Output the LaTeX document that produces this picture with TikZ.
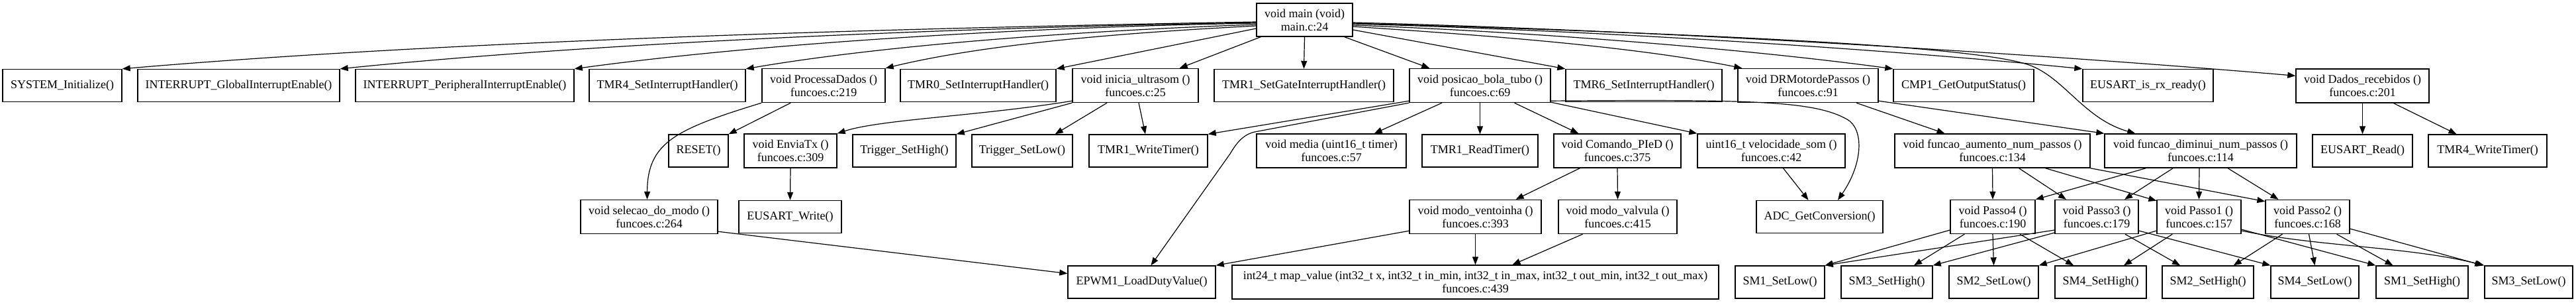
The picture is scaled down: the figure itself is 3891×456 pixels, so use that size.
\documentclass[tikz,border=0pt]{standalone}
\usepackage{fontspec}
\setmainfont{Liberation Serif}
\usetikzlibrary{arrows.meta}
\begin{document}
\begin{tikzpicture}[x=1pt,y=-1pt,
  fn/.style={draw=black, line width=1.4pt, rectangle, inner sep=0pt, align=center,
             font=\fontsize{18pt}{20pt}\selectfont, minimum height=49pt},
  fn2/.style={fn, minimum height=51pt},
  call/.style={line width=1.2pt, -{Triangle[length=12pt,width=9pt]}}]
\fill[white] (0,0) rectangle (3891,456);
\useasboundingbox (0,0) rectangle (3891,456);
% ---------- nodes ----------
\node[fn, minimum width=145pt, minimum height=50pt] (main) at (1970.5,30) {void main (void)\\main.c:24};
% row 1
\node[fn, minimum width=180pt] (sysinit) at (94,129) {SYSTEM\_Initialize()};
\node[fn, minimum width=305pt] (gie) at (360.5,129) {INTERRUPT\_GlobalInterruptEnable()};
\node[fn, minimum width=330pt] (pie) at (702,129) {INTERRUPT\_PeripheralInterruptEnable()};
\node[fn, minimum width=236pt] (tmrfoursih) at (1008,129) {TMR4\_SetInterruptHandler()};
\node[fn2, minimum width=186pt] (procdados) at (1244,129) {void ProcessaDados ()\\funcoes.c:219};
\node[fn, minimum width=235pt] (tmrzerosih) at (1477.5,129) {TMR0\_SetInterruptHandler()};
\node[fn2, minimum width=190pt] (inicia) at (1715,129) {void inicia\_ultrasom ()\\funcoes.c:25};
\node[fn, minimum width=271pt] (tmronegate) at (1969.5,129) {TMR1\_SetGateInterruptHandler()};
\node[fn2, minimum width=213pt] (posicao) at (2235.5,129) {void posicao\_bola\_tubo ()\\funcoes.c:69};
\node[fn, minimum width=236pt] (tmrsixsih) at (2483,129) {TMR6\_SetInterruptHandler()};
\node[fn2, minimum width=212pt] (drmotor) at (2731,129) {void DRMotordePassos ()\\funcoes.c:91};
\node[fn, minimum width=212pt] (cmpone) at (2966,129) {CMP1\_GetOutputStatus()};
\node[fn, minimum width=197pt] (eusartrx) at (3244.5,129) {EUSART\_is\_rx\_ready()};
\node[fn2, minimum width=201pt] (dados) at (3568.5,129.5) {void Dados\_recebidos ()\\funcoes.c:201};
% row 2
\node[fn, minimum width=90pt] (reset) at (1055,227.5) {RESET()};
\node[fn2, minimum width=140pt] (enviatx) at (1194,227.5) {void EnviaTx ()\\funcoes.c:309};
\node[fn, minimum width=156pt] (trighigh) at (1366,227.5) {Trigger\_SetHigh()};
\node[fn, minimum width=152pt] (triglow) at (1544,227.5) {Trigger\_SetLow()};
\node[fn, minimum width=179pt] (tmronewrite) at (1734.5,227.5) {TMR1\_WriteTimer()};
\node[fn2, minimum width=226pt] (media) at (2011,227.5) {void media (uint16\_t timer)\\funcoes.c:57};
\node[fn, minimum width=175pt] (tmroneread) at (2235.5,227.5) {TMR1\_ReadTimer()};
\node[fn2, minimum width=192pt] (comando) at (2443,227.5) {void Comando\_PIeD ()\\funcoes.c:375};
\node[fn2, minimum width=223pt] (velsom) at (2675.5,227.5) {uint16\_t velocidade\_som ()\\funcoes.c:42};
\node[fn2, minimum width=295pt] (aumento) at (3009.5,227.5) {void funcao\_aumento\_num\_passos ()\\funcoes.c:134};
\node[fn2, minimum width=290pt] (diminui) at (3324,227.5) {void funcao\_diminui\_num\_passos ()\\funcoes.c:114};
\node[fn, minimum width=151pt] (eusartread) at (3568.5,227.5) {EUSART\_Read()};
\node[fn, minimum width=179pt] (tmrfourwrite) at (3757.5,227.5) {TMR4\_WriteTimer()};
% row 3
\node[fn2, minimum width=207pt] (selecao) at (980.5,327) {void selecao\_do\_modo ()\\funcoes.c:264};
\node[fn, minimum width=155pt] (eusartwrite) at (1193.5,327) {EUSART\_Write()};
\node[fn2, minimum width=199pt] (ventoinha) at (2228.5,327) {void modo\_ventoinha ()\\funcoes.c:393};
\node[fn2, minimum width=179pt] (valvula) at (2443.5,327) {void modo\_valvula ()\\funcoes.c:415};
\node[fn, minimum width=191pt] (adc) at (2748.5,327) {ADC\_GetConversion()};
\node[fn2, minimum width=128pt] (passofour) at (3010,327) {void Passo4 ()\\funcoes.c:190};
\node[fn2, minimum width=126pt] (passothree) at (3167,327) {void Passo3 ()\\funcoes.c:179};
\node[fn2, minimum width=127pt] (passoone) at (3321.5,327) {void Passo1 ()\\funcoes.c:157};
\node[fn2, minimum width=127pt] (passotwo) at (3485.5,327) {void Passo2 ()\\funcoes.c:168};
% row 4
\node[fn, minimum width=223pt] (epwm) at (1724.5,425.5) {EPWM1\_LoadDutyValue()};
\node[fn2, minimum width=735pt] (mapvalue) at (2228.5,425.5) {int24\_t map\_value (int32\_t x, int32\_t in\_min, int32\_t in\_max, int32\_t out\_min, int32\_t out\_max)\\funcoes.c:439};
\node[fn, minimum width=135pt] (smonelow) at (2688.5,425.5) {SM1\_SetLow()};
\node[fn, minimum width=138pt] (smthreehigh) at (2850,425.5) {SM3\_SetHigh()};
\node[fn, minimum width=135pt] (smtwolow) at (3011.5,425.5) {SM2\_SetLow()};
\node[fn, minimum width=138pt] (smfourhigh) at (3173,425.5) {SM4\_SetHigh()};
\node[fn, minimum width=138pt] (smtwohigh) at (3335,425.5) {SM2\_SetHigh()};
\node[fn, minimum width=133pt] (smfourlow) at (3496.5,425.5) {SM4\_SetLow()};
\node[fn, minimum width=139pt] (smonehigh) at (3658.5,425.5) {SM1\_SetHigh()};
\node[fn, minimum width=133pt] (smthreelow) at (3819.5,425.5) {SM3\_SetLow()};
% ---------- edges from main ----------
\draw[call] ([yshift=-3pt]main.west) .. controls (1383,42) and (697,60) .. (sysinit.north east);
\draw[call] ([yshift=-4pt]main.west) .. controls (1482,41) and (927,62) .. (gie.north east);
\draw[call] ([yshift=-5pt]main.west) .. controls (1588,40) and (1174,62) .. (pie.north east);
\draw[call] ([yshift=-7pt]main.west) .. controls (1666,45) and (1354,65) .. (tmrfoursih.north east);
\draw[call] ([yshift=-9pt]main.west) .. controls (1728,48) and (1502,63) .. (procdados.north east);
\draw[call] ([yshift=-13pt]main.west) -- (tmrzerosih.north east);
\draw[call] ([xshift=7pt]main.south west) -- ([xshift=-29pt]inicia.north east);
\draw[call] (main.south) -- (tmronegate.north);
\draw[call] ([xshift=-13pt]main.south east) -- ([xshift=31pt]posicao.north west);
\draw[call] ([yshift=-15pt]main.east) -- (tmrsixsih.north west);
\draw[call] ([yshift=-10pt]main.east) .. controls (2221,52) and (2458,68) .. ([xshift=7pt]drmotor.north west);
\draw[call] ([yshift=-8pt]main.east) .. controls (2289,47) and (2616,71) .. (cmpone.north west);
\draw[call] ([yshift=-6pt]main.east) .. controls (2375,45) and (2816,71) .. (eusartrx.north west);
\draw[call] ([yshift=-4pt]main.east) .. controls (2471,45) and (3042,78) .. ([yshift=-11pt]dados.north west);
\draw[call] ([yshift=-5pt]main.east) .. controls (2600,52) and (3000,70) .. (3070,100)
   .. controls (3120,121) and (3150,180) .. ([xshift=47pt]diminui.north west);
% ---------- ProcessaDados ----------
\draw[call] (procdados.south west) .. controls (1020,195) and (978,215) .. ([xshift=-3pt]selecao.north);
\draw[call] ([xshift=44pt]procdados.south west) -- (reset.north east);
% ---------- inicia_ultrasom ----------
\draw[call] ([yshift=3pt]inicia.south west) .. controls (1480,175) and (1330,180) .. (enviatx.north east);
\draw[call] (inicia.south west) -- (trighigh.north east);
\draw[call] ([xshift=-43pt]inicia.south) -- ([xshift=-27pt]triglow.north east);
\draw[call] ([xshift=5pt]inicia.south) -- ([xshift=-4.5pt]tmronewrite.north);
% ---------- posicao_bola_tubo ----------
\draw[call] ([yshift=3pt]posicao.south west) -- (tmronewrite.north east);
\draw[call] (posicao.south west) -- (1895,199) .. controls (1878,203) and (1868,215) .. (1858,232) -- ([xshift=14pt]epwm.north);
\draw[call] ([xshift=-57.5pt]posicao.south) -- ([xshift=-49pt]media.north east);
\draw[call] (posicao.south) -- (tmroneread.north);
\draw[call] ([xshift=52pt]posicao.south) -- ([xshift=38pt]comando.north west);
\draw[call] ([yshift=1pt]posicao.south east) -- (velsom.north west);
\draw[call] ([yshift=3pt]posicao.south east) .. controls (2650,150) and (2740,152) .. (2790,180)
   .. controls (2815,194) and (2815,245) .. ([xshift=27.5pt]adc.north);
% ---------- other upper calls ----------
\draw[call] ([xshift=73pt]drmotor.south) -- ([xshift=-72pt]aumento.north);
\draw[call] ([yshift=3pt]drmotor.south east) -- (diminui.north west);
\draw[call] (dados.south) -- (eusartread.north);
\draw[call] ([xshift=47pt]dados.south) -- ([xshift=-47pt]tmrfourwrite.north);
\draw[call] (enviatx.south) -- (eusartwrite.north);
\draw[call] ([yshift=4pt]selecao.south east) -- ([yshift=13pt]epwm.west);
\draw[call] ([xshift=40pt]comando.south west) -- ([xshift=61pt]ventoinha.north);
\draw[call] (comando.south) -- (valvula.north);
\draw[call] ([yshift=5pt]ventoinha.south west) -- (epwm.north east);
\draw[call] (ventoinha.south) -- (mapvalue.north);
\draw[call] ([xshift=-53pt]valvula.south) -- ([xshift=56pt]mapvalue.north);
\draw[call] ([xshift=18pt]velsom.south) -- ([xshift=-17pt]adc.north);
% ---------- aumento / diminui ----------
\draw[call] (aumento.south) -- (passofour.north);
\draw[call] ([xshift=40pt]aumento.south) -- ([xshift=-46pt]passothree.north);
\draw[call] ([xshift=80pt]aumento.south) -- ([yshift=-2pt]passoone.north west);
\draw[call] (aumento.south east) -- ([yshift=-3pt]passotwo.north west);
\draw[call] ([xshift=63pt]diminui.south west) -- (passofour.north east);
\draw[call] ([xshift=104pt]diminui.south west) -- ([xshift=42pt]passothree.north);
\draw[call] ([xshift=-2pt]diminui.south) -- (passoone.north);
\draw[call] ([xshift=41pt]diminui.south) -- ([xshift=-44pt]passotwo.north);
% ---------- Passo4 ----------
\draw[call] ([yshift=-20pt]passofour.west) -- (smonelow.north east);
\draw[call] ([xshift=22pt]passofour.south west) -- ([xshift=41pt]smthreehigh.north);
\draw[call] (passofour.south) -- (smtwolow.north);
\draw[call] ([xshift=41pt]passofour.south) -- ([xshift=-41pt]smfourhigh.north);
% ---------- Passo3 ----------
\draw[call] ([yshift=-20pt]passothree.west) -- (smonelow.north east);
\draw[call] ([yshift=-24pt]passothree.west) -- (smthreehigh.north east);
\draw[call] ([xshift=43pt]passothree.south) -- ([xshift=-42pt]smtwohigh.north);
\draw[call] ([yshift=-21pt]passothree.east) -- (smfourlow.north west);
% ---------- Passo1 ----------
\draw[call] ([yshift=-21pt]passoone.west) -- (smtwolow.north east);
\draw[call] ([xshift=24pt]passoone.south west) -- ([xshift=35pt]smfourhigh.north);
\draw[call] ([yshift=-19pt]passoone.east) -- (smonehigh.north west);
\draw[call] ([yshift=-21pt]passoone.east) .. controls (3500,372) and (3640,372) .. (smthreelow.north west);
% ---------- Passo2 ----------
\draw[call] ([xshift=-38pt]passotwo.south) -- ([xshift=-31pt]smtwohigh.north east);
\draw[call] ([xshift=2pt]passotwo.south) -- (smfourlow.north);
\draw[call] ([xshift=44pt]passotwo.south) -- ([xshift=-44pt]smonehigh.north);
\draw[call] ([yshift=-18pt]passotwo.east) -- ([xshift=-2pt]smthreelow.north west);
\end{tikzpicture}
\end{document}
